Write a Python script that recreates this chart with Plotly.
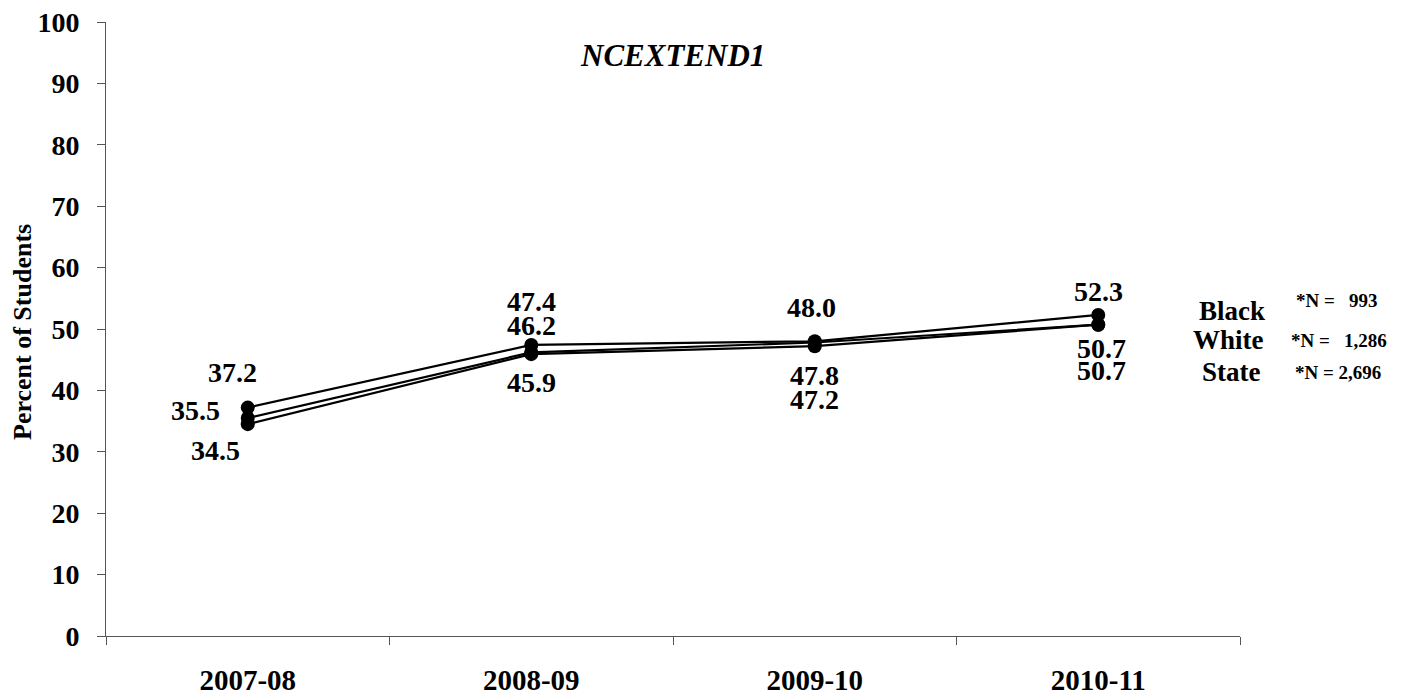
import plotly.graph_objects as go

years = ["2007-08", "2008-09", "2009-10", "2010-11"]
black = [37.2, 47.4, 48.0, 52.3]
white = [35.5, 46.2, 47.8, 50.7]
state = [34.5, 45.9, 47.2, 50.7]
groups = ["Black", "White", "State"]
counts = ["*N =   993", "*N =   1,286", "*N = 2,696"]
y_ticks = list(range(0, 101, 10))

FONT = "Liberation Serif"

# page layout: plot area spans x 106..1240, y 22..636
PX0, PX1, PY0, PY1 = 106, 1240, 22, 636


def px(x):
    return (x - PX0) / (PX1 - PX0)


def py(y):
    return (PY1 - y) / (PY1 - PY0)


fig = go.Figure()
for name, vals in zip(groups, [black, white, state]):
    fig.add_trace(go.Scatter(
        x=years, y=vals, name=name, mode="lines+markers",
        line=dict(color="black", width=2.2),
        marker=dict(color="black", size=14, symbol="circle"),
        showlegend=False, hoverinfo="x+y+name",
    ))

# label offsets (pixels) per series/point: (xshift, yshift)
offsets = {
    "Black": [(-15, 35), (0, 43), (-3, 34), (0, 23)],
    "White": [(-52, 8), (0, 27), (0, -33), (3, -24)],
    "State": [(-32, -26), (0, -28), (0, -53), (3, -46)],
}
for name, vals in zip(groups, [black, white, state]):
    for i, (yr, v) in enumerate(zip(years, vals)):
        dx, dy = offsets[name][i]
        fig.add_annotation(
            x=yr, y=v, xref="x", yref="y", text=f"<b>{v:.1f}</b>",
            showarrow=False, xshift=dx, yshift=dy,
            font=dict(family=FONT, size=28, color="black"),
        )

# title
fig.add_annotation(
    x=px(672), y=py(55), xref="paper", yref="paper",
    xanchor="center", yanchor="middle",
    text="<b><i>NCEXTEND1</i></b>", showarrow=False,
    font=dict(family=FONT, size=31, color="black"),
)

# y-axis title
fig.add_annotation(
    x=px(22), y=py(332), xref="paper", yref="paper",
    xanchor="center", yanchor="middle", textangle=-90,
    text="<b>Percent of Students</b>", showarrow=False,
    font=dict(family=FONT, size=26, color="black"),
)

# group names and counts
name_pos = [(1232, 311), (1228, 340), (1231, 372)]
count_pos = [(1337, 300), (1339, 340), (1338, 372)]
for g, c, (nx, ny), (cx, cy) in zip(groups, counts, name_pos, count_pos):
    fig.add_annotation(
        x=px(nx), y=py(ny), xref="paper", yref="paper",
        xanchor="center", yanchor="middle",
        text=f"<b>{g}</b>", showarrow=False,
        font=dict(family=FONT, size=27, color="black"),
    )
    fig.add_annotation(
        x=px(cx), y=py(cy), xref="paper", yref="paper",
        xanchor="center", yanchor="middle",
        text=f"<b>{c.replace(' ', '&nbsp;')}</b>", showarrow=False,
        font=dict(family=FONT, size=19, color="black"),
    )

fig.update_layout(
    width=1401, height=697,
    margin=dict(l=106, r=161, t=22, b=61, autoexpand=False),
    plot_bgcolor="white", paper_bgcolor="white",
    font=dict(family=FONT, color="black"),
)
fig.update_xaxes(
    type="category", range=[-0.5, 3.5], tickson="boundaries",
    ticks="outside", ticklen=8, tickcolor="#555", tickwidth=1,
    showline=True, linecolor="#555", linewidth=1, showgrid=False,
    tickfont=dict(family=FONT, size=29, color="black", weight="bold"),
    ticklabelstandoff=18, automargin=False,
)
fig.update_yaxes(
    range=[0, 100], tickvals=y_ticks,
    ticks="outside", ticklen=8, tickcolor="#555", tickwidth=1,
    showline=True, linecolor="#555", linewidth=1, showgrid=False, zeroline=False,
    tickfont=dict(family=FONT, size=28, color="black", weight="bold"),
    ticklabelstandoff=12, automargin=False,
)

fig.write_html(
    "out.html",
    config={"displayModeBar": False},
    post_script="document.body.style.margin='0px';document.body.style.overflow='hidden';",
)
